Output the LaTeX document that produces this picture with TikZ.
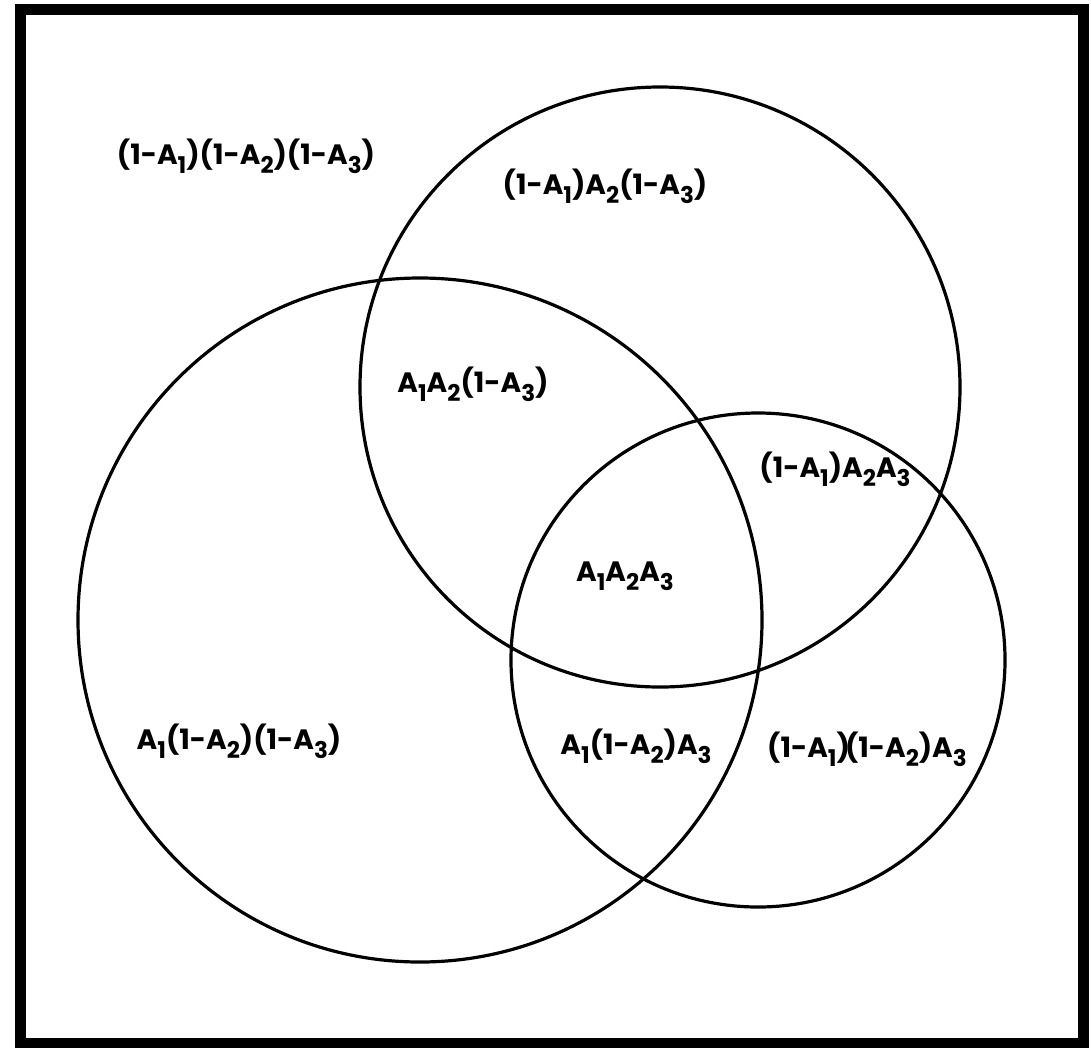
\documentclass[tikz,border=0pt]{standalone}
\usepackage{fontspec}
\setmainfont{Poppins}
\newcommand\ssub[1]{\raisebox{-0.32em}{\fontsize{23}{23}\selectfont #1}}
\begin{document}
\begin{tikzpicture}[x=1pt,y=-1pt,
  ring/.style={draw=black,line width=3.2pt},
  lbl/.style={font=\fontsize{28}{28}\selectfont\bfseries, inner sep=0pt, anchor=center}]
\useasboundingbox (0,0) rectangle (1091,1047);
\draw[line width=11pt] (20,9) rectangle (1083,1043);
\node[ring,circle,minimum size=684pt,inner sep=0pt] (cA) at (420,620) {};
\node[ring,circle,minimum size=600pt,inner sep=0pt] (cB) at (660,387) {};
\node[ring,circle,minimum size=494pt,inner sep=0pt] (cC) at (758,660) {};
\node[lbl] (t0) at (246,156) {(1-A\ssub{1})(1-A\ssub{2})(1-A\ssub{3})};
\node[lbl] (t1) at (605,186) {(1-A\ssub{1})A\ssub{2}(1-A\ssub{3})};
\node[lbl] (t2) at (473,384) {A\ssub{1}A\ssub{2}(1-A\ssub{3})};
\node[lbl] (t3) at (835,469) {(1-A\ssub{1})A\ssub{2}A\ssub{3}};
\node[lbl] (t4) at (625,576) {A\ssub{1}A\ssub{2}A\ssub{3}};
\node[lbl] (t5) at (239,741) {A\ssub{1}(1-A\ssub{2})(1-A\ssub{3})};
\node[lbl] (t6) at (636,746) {A\ssub{1}(1-A\ssub{2})A\ssub{3}};
\node[lbl] (t7) at (867,749) {(1-A\ssub{1})\kern-5pt(1-A\ssub{2})A\ssub{3}};
\end{tikzpicture}
\end{document}
